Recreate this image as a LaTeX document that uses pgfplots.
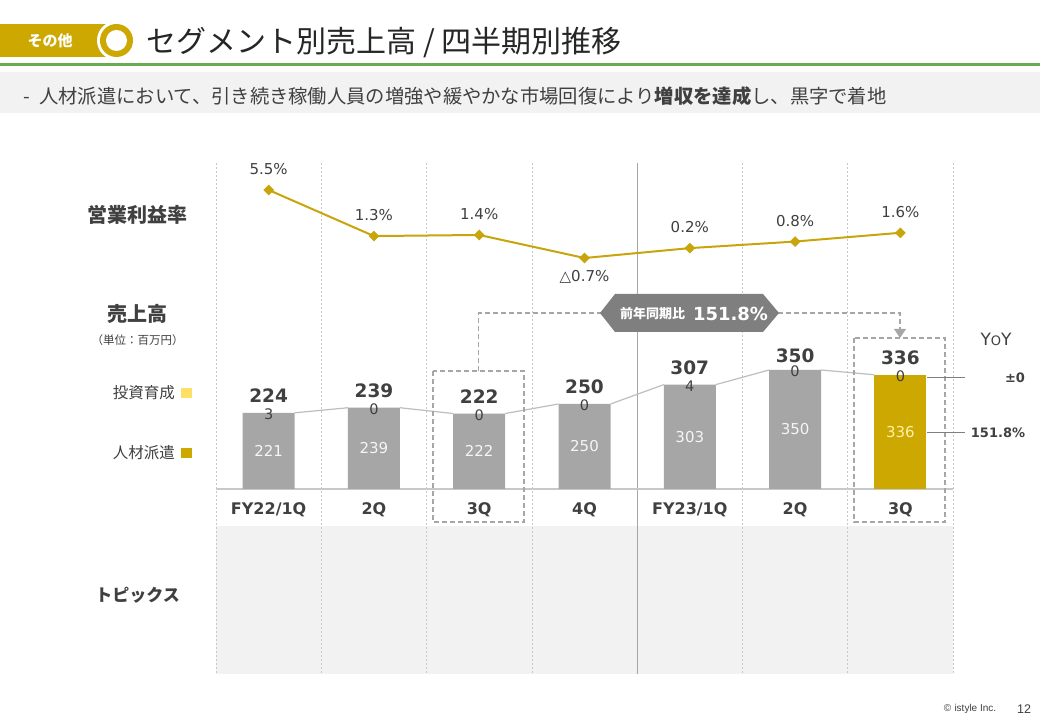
\documentclass[border=0pt]{standalone}
\usepackage{fontspec}
\setmainfont{DejaVu Sans}
\newfontfamily\jp{Noto Sans CJK JP}
\newfontfamily\arial{Liberation Sans}
\usepackage{pgfplots}
\pgfplotsset{compat=1.18}
\usetikzlibrary{arrows.meta}
\definecolor{gold}{RGB}{204,168,0}
\definecolor{linec}{RGB}{200,165,10}
\definecolor{bargray}{RGB}{166,166,166}
\definecolor{dark}{RGB}{64,64,64}
\definecolor{titlec}{RGB}{38,38,38}
\definecolor{greenl}{RGB}{106,170,80}
\definecolor{band}{RGB}{242,242,242}
\definecolor{gridc}{RGB}{200,200,200}
\definecolor{dashc}{RGB}{166,166,166}
\definecolor{hexc}{RGB}{127,127,127}
\definecolor{yell}{RGB}{255,224,102}
\definecolor{lightyell}{RGB}{255,240,170}
\definecolor{inner}{RGB}{245,245,245}
\definecolor{serl}{RGB}{190,190,190}
\newcommand{\fs}[1]{\fontsize{#1}{#1}\selectfont}
\pgfplotsset{geom/.style={scale only axis, width=737pt, xmin=-0.5, xmax=6.5,
  anchor=south west, clip=false, enlargelimits=false}}
\begin{document}
\begin{tikzpicture}
\begin{scope}[x=1pt,y=1pt]
\fill[white] (0,0) rectangle (1040,720);
% header
\fill[gold] (0,{720-24}) rectangle (110,{720-57});
\fill[white] (116.5,{720-40.5}) circle (19.5);
\fill[gold] (116.5,{720-40.5}) circle (16.5);
\fill[white] (116.5,{720-40.5}) circle (10.5);
\node[text=white,font=\jp\bfseries\fs{15}] at (50,{720-41}) {その他};
\node[anchor=west,text=titlec,font=\jp\fs{30}] at (143,{720-43}) {セグメント別売上高 / 四半期別推移};
\fill[greenl] (0,{720-63}) rectangle (1040,{720-66.5});
\fill[band] (0,{720-72}) rectangle (1040,{720-113});
\node[anchor=west,font=\jp\fs{19.3},text=dark] at (20,{720-96}) {-\hspace{9pt}人材派遣において、引き続き稼働人員の増強や緩やかな市場回復により{\bfseries 増収を達成}し、黒字で着地};
% topics area and grid
\fill[band] (216,{720-526}) rectangle (953,{720-674});
\foreach \gx in {216,321.3,426.6,531.9,742.4,847.7,953}
  \draw[gridc,line width=0.8pt,dash pattern=on 2pt off 2pt] (\gx,{720-163}) -- (\gx,{720-674});
\draw[bargray,line width=0.9pt] (637.2,{720-163}) -- (637.2,{720-674});
% left labels
\node[font=\jp\bfseries\fs{20},text=dark] at (137.5,{720-215}) {営業利益率};
\node[font=\jp\bfseries\fs{20},text=dark] at (137.5,{720-314}) {売上高};
\node[font=\jp\fs{11.5},text=dark] at (137.5,{720-340}) {（単位：百万円）};
\node[anchor=east,font=\jp\fs{15.5},text=dark,inner sep=0pt] at (175,{720-393}) {投資育成};
\fill[yell] (181,{720-388}) rectangle (192,{720-398});
\node[anchor=east,font=\jp\fs{15.5},text=dark,inner sep=0pt] at (175,{720-453}) {人材派遣};
\fill[gold] (181,{720-448}) rectangle (192,{720-458});
\node[font=\jp\bfseries\fs{17},text=dark] at (137.5,{720-595}) {トピックス};
\end{scope}
% bars
\begin{axis}[geom, height=340pt, at={(216pt,231pt)}, ymin=0, ymax=1000,
  ybar stacked, bar width=52pt,
  axis x line=bottom, axis y line=none,
  x axis line style={draw=gridc,line width=1.3pt,-},
  xtick={0,...,6}, major tick length=0pt,
  xticklabels={\mbox{FY22/1Q},\mbox{2Q},\mbox{3Q},\mbox{4Q},\mbox{FY23/1Q},\mbox{2Q},\mbox{3Q}},
  xticklabel style={font=\bfseries\fs{16},text=dark,anchor=center,yshift=-21pt}]
\addplot[fill=bargray,draw=none] coordinates {(0,221)(1,239)(2,222)(3,250)(4,303)(5,350)(6,0)};
\addplot[fill=gold,draw=none] coordinates {(0,0)(1,0)(2,0)(3,0)(4,0)(5,0)(6,336)};
\addplot[fill=bargray,draw=none] coordinates {(0,3)(1,0)(2,0)(3,0)(4,4)(5,0)(6,0)};
\end{axis}
% labels over bars
\begin{axis}[geom, height=340pt, at={(216pt,231pt)}, ymin=0, ymax=1000, hide axis]
\addplot[color=serl,line width=1.2pt,unbounded coords=jump] coordinates {
 (0.247,224)(0.753,239)(1,nan)(1.247,239)(1.753,222)(2,nan)(2.247,222)(2.753,250)(3,nan)
 (3.247,250)(3.753,307)(4,nan)(4.247,307)(4.753,350)(5,nan)(5.247,350)(5.753,336)};
\addplot[draw=none,nodes near coords,point meta=explicit symbolic,
  every node near coord/.append style={anchor=center,font=\fs{15},text=inner}] coordinates {
 (0,110.5)[221](1,119.5)[239](2,111)[222](3,125)[250](4,151.5)[303](5,175)[350]};
\addplot[draw=none,nodes near coords,point meta=explicit symbolic,
  every node near coord/.append style={anchor=center,font=\fs{15},text=lightyell}] coordinates {
 (6,168)[336]};
\addplot[draw=none,nodes near coords,point meta=explicit symbolic,
  every node near coord/.append style={anchor=center,inner sep=0pt,yshift=-1.5pt,font=\fs{14.5},text=dark}] coordinates {
 (0,224)[3](1,239)[0](2,222)[0](3,250)[0](4,307)[4](5,350)[0](6,336)[0]};
\addplot[draw=none,nodes near coords,point meta=explicit symbolic,
  every node near coord/.append style={anchor=base,inner sep=0pt,yshift=10pt,font=\bfseries\fs{18.5},text=dark}] coordinates {
 (0,224)[224](1,239)[239](2,222)[222](3,250)[250](4,307)[307](6,336)[336]};
\addplot[draw=none,nodes near coords,point meta=explicit symbolic,
  every node near coord/.append style={anchor=base,inner sep=0pt,yshift=7pt,font=\bfseries\fs{18.5},text=dark}] coordinates {
 (5,350)[350]};
\end{axis}
% operating margin line
\begin{axis}[geom, height=76.8pt, at={(216pt,458.7pt)}, ymin=-1, ymax=6, hide axis]
\addplot[linec,line width=2pt,mark=square*,mark size=2.8pt,mark options={fill=linec,draw=linec,rotate=45}]
 coordinates {(0,5.5)(1,1.3)(2,1.4)(3,-0.7)(4,0.2)(5,0.8)(6,1.6)};
\addplot[draw=none,nodes near coords,point meta=explicit symbolic,
  every node near coord/.append style={anchor=base,inner sep=0pt,yshift=15.5pt,font=\fs{15},text=dark}] coordinates {
 (0,5.5)[5.5\%](1,1.3)[1.3\%](2,1.4)[1.4\%](4,0.2)[0.2\%](5,0.8)[0.8\%](6,1.6)[1.6\%]};
\addplot[draw=none,nodes near coords,point meta=explicit symbolic,
  every node near coord/.append style={anchor=base,inner sep=0pt,yshift=-23.5pt,font=\fs{15},text=dark}] coordinates {
 (3,-0.7)[△0.7\%]};
\end{axis}
\begin{scope}[x=1pt,y=1pt]
% dashed boxes and connectors
\draw[dashc,line width=1.8pt,dash pattern=on 5pt off 3pt] (433,{720-371}) rectangle (524,{720-522});
\draw[dashc,line width=1.8pt,dash pattern=on 5pt off 3pt] (854,{720-338}) rectangle (945,{720-522});
\draw[dashc,line width=1.8pt,dash pattern=on 5pt off 3pt] (478.5,{720-371}) -- (478.5,{720-313}) -- (602,{720-313});
\draw[dashc,line width=1.8pt,dash pattern=on 5pt off 3pt] (778,{720-313}) -- (900,{720-313}) -- (900,{720-330});
\fill[dashc] (894,{720-329}) -- (906,{720-329}) -- (900,{720-338}) -- cycle;
\fill[hexc] (600,{720-313}) -- (615,{720-294}) -- (763,{720-294}) -- (779,{720-313}) -- (763,{720-332}) -- (615,{720-332}) -- cycle;
\node[font=\jp\bfseries\fs{13},text=white] at (652.5,{720-314}) {前年同期比};
\node[font=\bfseries\fs{18},text=white] at (730.5,{720-314}) {151.8\%};
% YoY
\node[font=\fs{17},text=dark] at (996,{720-339}) {Y{\fs{13}O}Y};
\draw[hexc,line width=1pt] (927,{720-378}) -- (965,{720-378});
\draw[hexc,line width=1pt] (927,{720-433}) -- (965,{720-433});
\node[font=\bfseries\fs{13},text=dark] at (1015,{720-378}) {±0};
\node[font=\bfseries\fs{13},text=dark] at (998,{720-433}) {151.8\%};
% footer
\node[font=\arial\fs{10},text=dark] at (970,{720-709}) {©\,\,istyle Inc.};
\node[font=\arial\fs{12.5},text=dark] at (1024,{720-709}) {12};
\end{scope}
\end{tikzpicture}
\end{document}
